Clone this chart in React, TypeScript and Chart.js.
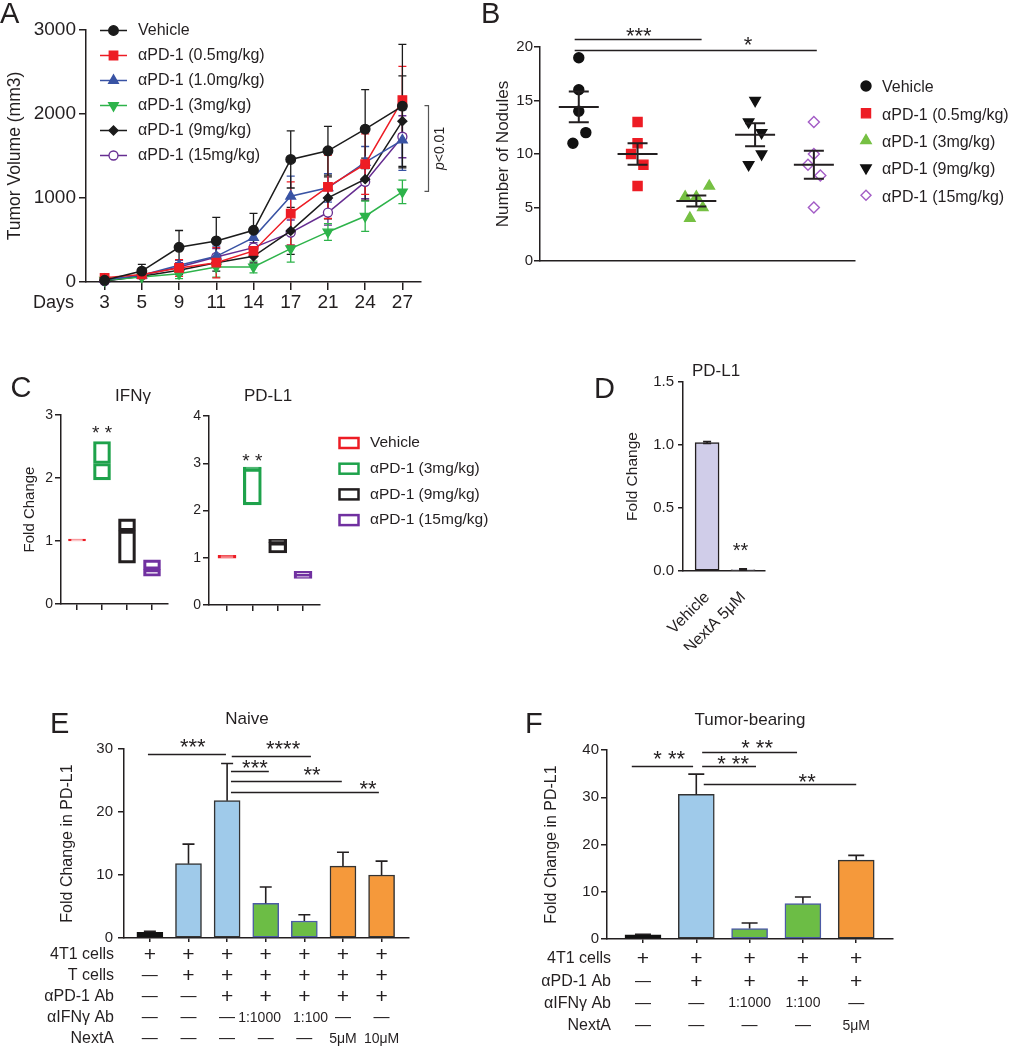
import React, { useEffect, useRef } from "react";
import { Chart, registerables } from "chart.js";

Chart.register(...registerables);

const FONT = "'Liberation Sans', Arial, Helvetica, sans-serif";
const INK = "#231f20";

// ================= Panel A : tumor volume =================
const daysA = ["3", "5", "9", "11", "14", "17", "21", "24", "27"];
const namesA = ["Vehicle", "αPD-1 (0.5mg/kg)", "αPD-1 (1.0mg/kg)", "αPD-1 (3mg/kg)", "αPD-1 (9mg/kg)", "αPD-1 (15mg/kg)"];
const vehicleA = [20, 130, 413, 489, 616, 1459, 1562, 1820, 2094];
const vehicleErrA = [10, 80, 200, 280, 200, 340, 290, 470, 735];
const dose05A = [50, 90, 167, 230, 370, 815, 1133, 1403, 2166];
const dose05ErrA = [10, 20, 100, 180, 60, 377, 377, 360, 400];
const dose10A = [28, 80, 199, 306, 529, 1021, 1121, 1423, 1689];
const dose10ErrA = [10, 20, 60, 120, 80, 240, 170, 190, 360];
const dose3A = [20, 60, 99, 179, 179, 397, 596, 783, 1073];
const dose3ErrA = [5, 15, 60, 120, 70, 160, 100, 180, 140];
const dose9A = [12, 68, 139, 230, 306, 608, 1001, 1224, 1915];
const dose9ErrA = [5, 20, 50, 100, 80, 280, 250, 250, 540];
const dose15A = [12, 80, 179, 298, 409, 588, 827, 1192, 1729];
const dose15ErrA = [5, 20, 50, 100, 60, 150, 150, 200, 250];
const yTicksA = [0, 1000, 2000, 3000];

// ================= Panel B : nodules =================
const groupsB = ["Vehicle", "αPD-1 (0.5mg/kg)", "αPD-1 (3mg/kg)", "αPD-1 (9mg/kg)", "αPD-1 (15mg/kg)"];
const vehicleB = [19, 16, 14, 12, 11];
const dose05B = [13, 11, 10, 9, 7];
const dose3B = [7, 6, 6, 5, 4];
const dose9B = [15, 13, 12, 10, 9];
const dose15B = [13, 10, 9, 8, 5];
const jitterVehicleB = [0, 0, 0, 0.12, -0.1];
const jitter05B = [0, 0, -0.11, 0.1, 0];
const jitter3B = [0.22, -0.19, 0, 0.11, -0.11];
const jitter9B = [0, -0.11, 0.11, 0.11, -0.11];
const jitter15B = [0, 0, -0.1, 0.11, 0];
const yTicksB = [0, 5, 10, 15, 20];

// ================= Panel C : fold change boxes =================
const groupsC = ["Vehicle", "αPD-1 (3mg/kg)", "αPD-1 (9mg/kg)", "αPD-1 (15mg/kg)"];
const ifngLow = [1.0, 1.97, 0.65, 0.44];
const ifngMid = [1.02, 2.23, 1.16, 0.55];
const ifngHigh = [1.03, 2.58, 1.35, 0.7];
const pdl1Low = [0.99, 2.12, 1.1, 0.56];
const pdl1Mid = [1.02, 2.88, 1.32, 0.63];
const pdl1High = [1.05, 2.92, 1.39, 0.71];
const yTicksC1 = [0, 1, 2, 3];
const yTicksC2 = [0, 1, 2, 3, 4];

// ================= Panel D =================
const labelsD = ["Vehicle", "NextA 5μM"];
const valuesD = [1.02, 0.012];
const errD = [0.008, 0.006];
const yTicksD = [0, 0.5, 1.0, 1.5];

// ================= Panel E : Naive =================
const valuesE = [0.9, 11.8, 21.8, 5.5, 2.7, 11.4, 10.0];
const errE = [0.15, 3.1, 5.9, 2.6, 1.0, 2.2, 2.2];
const rowLabelsE = ["4T1 cells", "T cells", "αPD-1 Ab", "αIFNγ Ab", "NextA"];
const cellsE = ["+", "+", "+", "+", "+", "+", "+"];
const tCellsE = ["—", "+", "+", "+", "+", "+", "+"];
const pd1AbE = ["—", "—", "+", "+", "+", "+", "+"];
const ifngAbE = ["—", "—", "—", "1:1000", "1:100", "—", "—"];
const nextAE = ["—", "—", "—", "—", "—", "5μM", "10μM"];
const ifngShiftE = [0, 0, 0, -0.16, 0.16, 0, 0];
const yTicksE = [0, 10, 20, 30];

// ================= Panel F : Tumor-bearing =================
const valuesF = [0.9, 30.6, 2.2, 7.5, 16.7];
const errF = [0.1, 4.3, 1.2, 1.4, 1.0];
const rowLabelsF = ["4T1 cells", "αPD-1 Ab", "αIFNγ Ab", "NextA"];
const cellsF = ["+", "+", "+", "+", "+"];
const pd1AbF = ["—", "+", "+", "+", "+"];
const ifngAbF = ["—", "—", "1:1000", "1:100", "—"];
const nextAF = ["—", "—", "—", "—", "5μM"];
const yTicksF = [0, 10, 20, 30, 40];

// significance annotations (x in category units, y in data units)
const sigB = [
  { from: 0.93, to: 3.09, at: 20.75, label: "***", lx: 2.02, ly: 21.55 },
  { from: 0.93, to: 5.05, at: 19.72, label: "*", lx: 3.88, ly: 20.75 },
];
const sigE = [
  { from: -0.05, to: 1.97, at: 29.2, label: "***", lx: 1.11, ly: 31.3 },
  { from: 2.12, to: 4.17, at: 28.9, label: "****", lx: 3.45, ly: 30.95 },
  { from: 2.1, to: 3.08, at: 26.5, label: "***", lx: 2.72, ly: 27.9 },
  { from: 2.1, to: 4.97, at: 24.9, label: "**", lx: 4.2, ly: 26.8 },
  { from: 2.1, to: 5.93, at: 23.2, label: "**", lx: 5.65, ly: 24.6 },
];
const sigF = [
  { from: -0.21, to: 0.94, at: 36.6, label: "* **", lx: 0.49, ly: 39.4 },
  { from: 1.11, to: 2.89, at: 39.6, label: "* **", lx: 2.14, ly: 41.7 },
  { from: 1.11, to: 2.12, at: 36.6, label: "* **", lx: 1.69, ly: 38.3 },
  { from: 1.14, to: 4.0, at: 32.8, label: "**", lx: 3.08, ly: 34.5 },
];

type Box = { left: number; top: number; width: number; height: number };

const BOX_A: Box = { left: 0, top: 0, width: 480, height: 325 };
const BOX_B: Box = { left: 480, top: 0, width: 536, height: 285 };
const BOX_C1: Box = { left: 0, top: 370, width: 175, height: 255 };
const BOX_C2: Box = { left: 175, top: 370, width: 385, height: 255 };
const BOX_D: Box = { left: 590, top: 350, width: 200, height: 300 };
const BOX_E: Box = { left: 0, top: 690, width: 470, height: 360 };
const BOX_F: Box = { left: 500, top: 690, width: 516, height: 360 };

// ---------- helpers ----------
function txt(ctx: any, s: string, x: number, y: number, size: number, align: string = "left", baseline: string = "alphabetic", style = "") {
  ctx.font = `${style}${size}px ${FONT}`;
  ctx.fillStyle = INK;
  ctx.textAlign = align;
  ctx.textBaseline = baseline;
  ctx.fillText(s, x, y);
}

function stars(ctx: any, s: string, cx: number, cy: number, size: number) {
  txt(ctx, s, cx, cy + 0.58 * size, size, "center", "alphabetic");
}

function shape(ctx: any, style: string, x: number, y: number, r: number, rot: number, fill: string, stroke: string, lw: number) {
  ctx.beginPath();
  if (style === "circle") {
    ctx.arc(x, y, r, 0, Math.PI * 2);
  } else if (style === "rect") {
    const s = r * Math.SQRT1_2;
    ctx.rect(x - s, y - s, 2 * s, 2 * s);
  } else if (style === "rectRot") {
    ctx.moveTo(x - r, y);
    ctx.lineTo(x, y - r);
    ctx.lineTo(x + r, y);
    ctx.lineTo(x, y + r);
    ctx.closePath();
  } else if (style === "triangle") {
    let a = (rot * Math.PI) / 180;
    for (let k = 0; k < 3; k++) {
      const px = x + Math.sin(a) * r;
      const py = y - Math.cos(a) * r;
      if (k === 0) ctx.moveTo(px, py);
      else ctx.lineTo(px, py);
      a += (2 * Math.PI) / 3;
    }
    ctx.closePath();
  }
  ctx.fillStyle = fill;
  ctx.fill();
  ctx.strokeStyle = stroke;
  ctx.lineWidth = lw;
  ctx.stroke();
}

function common(top: number, right: number) {
  return {
    responsive: false,
    maintainAspectRatio: false,
    animation: false,
    devicePixelRatio: 1,
    events: [],
    layout: { padding: { top, right, bottom: 0, left: 0 } },
    plugins: { legend: { display: false }, tooltip: { enabled: false }, title: { display: false } },
  };
}

function yAxis(o: { min: number; max: number; ticks: number[]; width: number; font: number; tickLen: number; pad: number; fmt?: (v: number) => string; title?: string; titleSize?: number; titleX?: number }) {
  return {
    type: "linear",
    min: o.min,
    max: o.max,
    bounds: "data",
    afterBuildTicks: (ax: any) => {
      ax.ticks = o.ticks.map((v) => ({ value: v }));
    },
    afterFit: (ax: any) => {
      ax.width = o.width;
    },
    ticks: {
      font: { family: FONT, size: o.font },
      color: INK,
      padding: o.pad,
      callback: (v: number) => (o.fmt ? o.fmt(v) : String(v)),
    },
    grid: { display: true, drawOnChartArea: false, drawTicks: true, tickLength: o.tickLen, color: INK, lineWidth: 1.5 },
    border: { display: true, color: INK, width: 1.5 },
    title: o.title
      ? {
          display: true,
          text: o.title,
          font: { family: FONT, size: o.titleSize, lineHeight: 1.2 },
          color: INK,
          padding: { top: (o.titleX as number) - 0.6 * (o.titleSize as number), bottom: 0 },
        }
      : { display: false },
  };
}

function xLinear(o: { min: number; max: number; ticks: number[]; height: number; tickLen: number; pad: number; font?: number; lineHeight?: number; rot?: number; label?: (v: number) => any }) {
  return {
    type: "linear",
    min: o.min,
    max: o.max,
    bounds: "data",
    offset: false,
    afterBuildTicks: (ax: any) => {
      ax.ticks = o.ticks.map((v) => ({ value: v }));
    },
    afterFit: (ax: any) => {
      ax.height = o.height;
    },
    ticks: {
      autoSkip: false,
      minRotation: o.rot || 0,
      maxRotation: o.rot || 0,
      padding: o.pad,
      font: { family: FONT, size: o.font || 14, lineHeight: o.lineHeight || 1.2 },
      color: INK,
      callback: (v: number) => (o.label ? o.label(v) : ""),
    },
    grid: { display: o.tickLen > 0, drawOnChartArea: false, drawTicks: o.tickLen > 0, tickLength: o.tickLen, color: INK, lineWidth: 1.5, offset: false },
    border: { display: true, color: INK, width: 1.5 },
  };
}

function inAbs(ctx: any, box: Box, fn: () => void) {
  ctx.save();
  ctx.translate(-box.left, -box.top);
  fn();
  ctx.restore();
}

function sigDraw(chart: any, list: any[], size: number) {
  const ctx = chart.ctx;
  const xs = chart.scales.x;
  const ys = chart.scales.y;
  ctx.save();
  ctx.strokeStyle = INK;
  ctx.lineWidth = 1.5;
  list.forEach((s) => {
    const y = Math.round(ys.getPixelForValue(s.at)) + 0.5;
    ctx.beginPath();
    ctx.moveTo(xs.getPixelForValue(s.from), y);
    ctx.lineTo(xs.getPixelForValue(s.to), y);
    ctx.stroke();
    stars(ctx, s.label, xs.getPixelForValue(s.lx), ys.getPixelForValue(s.ly), size);
  });
  ctx.restore();
}

function upperErr(chart: any, vals: number[], errs: number[], cap: number, both = false) {
  const ctx = chart.ctx;
  const xs = chart.scales.x;
  const ys = chart.scales.y;
  ctx.save();
  ctx.strokeStyle = INK;
  ctx.lineWidth = 1.6;
  vals.forEach((v, i) => {
    const px = xs.getPixelForValue(i);
    const top = ys.getPixelForValue(v + errs[i]);
    const base = ys.getPixelForValue(both ? Math.max(0, v - errs[i]) : v);
    ctx.beginPath();
    ctx.moveTo(px, base);
    ctx.lineTo(px, top);
    ctx.moveTo(px - cap, top);
    ctx.lineTo(px + cap, top);
    if (both) {
      ctx.moveTo(px - cap, base);
      ctx.lineTo(px + cap, base);
    }
    ctx.stroke();
  });
  ctx.restore();
}

// condition table under bars, columns placed by the x scale
function drawTable(chart: any, labels: string[], rows: string[][], shifts: (number[] | null)[], y0: number, lh: number, labelRight: number) {
  const ctx = chart.ctx;
  const xs = chart.scales.x;
  rows.forEach((row, r) => {
    const y = y0 + lh * r;
    txt(ctx, labels[r], labelRight, y, 16, "right", "middle");
    row.forEach((s, i) => {
      const sh = shifts[r] ? (shifts[r] as number[])[i] : 0;
      const x = xs.getPixelForValue(i + sh);
      if (s === "+") txt(ctx, s, x, y + 0.5, 21, "center", "middle");
      else if (s === "—") txt(ctx, s, x, y, 16, "center", "middle");
      else txt(ctx, s, x, y, 14, "center", "middle");
    });
  });
}

// ---------- Panel A ----------
const specsA = [
  { data: vehicleA, err: vehicleErrA, color: "#1b1b1b", style: "circle", r: 4.8, fill: "#1b1b1b", rot: 0 },
  { data: dose05A, err: dose05ErrA, color: "#ed1c24", style: "rect", r: 6, fill: "#ed1c24", rot: 0 },
  { data: dose10A, err: dose10ErrA, color: "#3953a4", style: "triangle", r: 5.6, fill: "#3953a4", rot: 0 },
  { data: dose3A, err: dose3ErrA, color: "#2db34a", style: "triangle", r: 5.6, fill: "#2db34a", rot: 180 },
  { data: dose9A, err: dose9ErrA, color: "#1b1b1b", style: "rectRot", r: 4.5, fill: "#1b1b1b", rot: 0 },
  { data: dose15A, err: dose15ErrA, color: "#662d91", style: "circle", r: 4.5, fill: "#ffffff", rot: 0 },
];

function buildA() {
  const box = BOX_A;
  return {
    type: "line",
    data: {
      labels: daysA,
      datasets: specsA.map((s, i) => ({
        label: namesA[i],
        data: s.data,
        borderColor: s.color,
        backgroundColor: s.fill,
        borderWidth: 1.5,
        pointStyle: s.style,
        pointRadius: s.r,
        pointHoverRadius: s.r,
        pointRotation: s.rot,
        pointBackgroundColor: s.fill,
        pointBorderColor: s.color,
        pointBorderWidth: 1.3,
        tension: 0,
        fill: false,
        clip: false,
      })),
    },
    options: {
      ...common(30, 59),
      scales: {
        x: {
          type: "category",
          offset: true,
          afterFit: (ax: any) => {
            ax.height = 43;
          },
          ticks: { font: { family: FONT, size: 19 }, color: INK, padding: 1, autoSkip: false, maxRotation: 0, minRotation: 0 },
          grid: { display: true, drawOnChartArea: false, drawTicks: true, tickLength: 8, color: INK, lineWidth: 1.5, offset: false },
          border: { display: true, color: INK, width: 1.5 },
        },
        y: yAxis({ min: 0, max: 3000, ticks: yTicksA, width: 86, font: 19, tickLen: 7, pad: 3, title: "Tumor Volume (mm3)", titleSize: 17.5, titleX: 15 }),
      },
    },
    plugins: [
      {
        id: "a-err",
        beforeDatasetsDraw(chart: any) {
          const ctx = chart.ctx;
          const xs = chart.scales.x;
          const ys = chart.scales.y;
          ctx.save();
          [...specsA].reverse().forEach((s) => {
            ctx.strokeStyle = s.color;
            ctx.lineWidth = 1.3;
            s.data.forEach((v: number, i: number) => {
              const px = xs.getPixelForValue(i);
              const hi = ys.getPixelForValue(v + s.err[i]);
              const lo = ys.getPixelForValue(Math.max(0, v - s.err[i]));
              ctx.beginPath();
              ctx.moveTo(px, hi);
              ctx.lineTo(px, lo);
              ctx.moveTo(px - 4, hi);
              ctx.lineTo(px + 4, hi);
              ctx.moveTo(px - 4, lo);
              ctx.lineTo(px + 4, lo);
              ctx.stroke();
            });
          });
          ctx.restore();
        },
        afterDraw(chart: any) {
          const ctx = chart.ctx;
          const ys = chart.scales.y;
          // p<0.01 bracket
          ctx.save();
          const bx = chart.chartArea.right + 7.5;
          const yt = ys.getPixelForValue(2100);
          const yb = ys.getPixelForValue(1080);
          ctx.strokeStyle = "#555";
          ctx.lineWidth = 1.2;
          ctx.beginPath();
          ctx.moveTo(bx - 4, yt);
          ctx.lineTo(bx, yt);
          ctx.lineTo(bx, yb);
          ctx.lineTo(bx - 4, yb);
          ctx.stroke();
          ctx.translate(bx + 12, (yt + yb) / 2);
          ctx.rotate(-Math.PI / 2);
          ctx.font = `italic 14px ${FONT}`;
          const w1 = ctx.measureText("p").width;
          ctx.font = `14px ${FONT}`;
          const w2 = ctx.measureText("<0.01").width;
          const start = -(w1 + w2) / 2;
          txt(ctx, "p", start, 0, 14, "left", "middle", "italic ");
          txt(ctx, "<0.01", start + w1, 0, 14, "left", "middle");
          ctx.restore();
          inAbs(ctx, box, () => {
            txt(ctx, "A", 0, 23, 29);
            txt(ctx, "Days", 33, 303, 18, "left", "middle");
            specsA.forEach((s, i) => {
              const y = 30.5 + 25 * i;
              ctx.strokeStyle = s.color;
              ctx.lineWidth = 1.5;
              ctx.beginPath();
              ctx.moveTo(100, y);
              ctx.lineTo(127, y);
              ctx.stroke();
              shape(ctx, s.style, 113.5, y, s.r, s.rot, s.fill, s.color, 1.3);
              txt(ctx, namesA[i], 138, y, 16, "left", "middle");
            });
          });
        },
      },
    ],
  };
}

// ---------- Panel B ----------
const specsB = [
  { vals: vehicleB, jit: jitterVehicleB, style: "circle", r: 5, rot: 0, fill: "#111111", stroke: "#111111" },
  { vals: dose05B, jit: jitter05B, style: "rect", r: 6.4, rot: 0, fill: "#ed1c24", stroke: "#ed1c24" },
  { vals: dose3B, jit: jitter3B, style: "triangle", r: 6, rot: 0, fill: "#76c043", stroke: "#76c043" },
  { vals: dose9B, jit: jitter9B, style: "triangle", r: 6, rot: 180, fill: "#111111", stroke: "#111111" },
  { vals: dose15B, jit: jitter15B, style: "rectRot", r: 5.5, rot: 0, fill: "#ffffff", stroke: "#a35cc6" },
];

function buildB() {
  const box = BOX_B;
  return {
    type: "scatter",
    data: {
      datasets: specsB.map((s, g) => ({
        label: groupsB[g],
        data: s.vals.map((v, i) => ({ x: g + 1 + s.jit[i], y: v })),
        pointStyle: s.style,
        pointRadius: s.r,
        pointHoverRadius: s.r,
        pointRotation: s.rot,
        pointBackgroundColor: s.fill,
        pointBorderColor: s.stroke,
        pointBorderWidth: 1.4,
        showLine: false,
        clip: false,
      })),
    },
    options: {
      ...common(47, 161),
      scales: {
        x: xLinear({ min: 0.34, max: 5.7, ticks: [], height: 24, tickLen: 0, pad: 0 }),
        y: yAxis({ min: 0, max: 20, ticks: yTicksB, width: 60, font: 15, tickLen: 6, pad: 1, title: "Number of Nodules", titleSize: 17, titleX: 23 }),
      },
    },
    plugins: [
      {
        id: "b-extra",
        afterDatasetsDraw(chart: any) {
          const ctx = chart.ctx;
          const xs = chart.scales.x;
          const ys = chart.scales.y;
          ctx.save();
          ctx.strokeStyle = INK;
          ctx.lineWidth = 2;
          specsB.forEach((s, g) => {
            const n = s.vals.length;
            const mean = s.vals.reduce((a, b) => a + b, 0) / n;
            const sd = Math.sqrt(s.vals.reduce((a, b) => a + (b - mean) * (b - mean), 0) / (n - 1));
            const sem = sd / Math.sqrt(n);
            const px = xs.getPixelForValue(g + 1);
            const pm = ys.getPixelForValue(mean);
            const ph = ys.getPixelForValue(mean + sem);
            const pl = ys.getPixelForValue(mean - sem);
            ctx.beginPath();
            ctx.moveTo(px - 20, pm);
            ctx.lineTo(px + 20, pm);
            ctx.moveTo(px, ph);
            ctx.lineTo(px, pl);
            ctx.moveTo(px - 10, ph);
            ctx.lineTo(px + 10, ph);
            ctx.moveTo(px - 10, pl);
            ctx.lineTo(px + 10, pl);
            ctx.stroke();
          });
          ctx.restore();
        },
        afterDraw(chart: any) {
          const ctx = chart.ctx;
          sigDraw(chart, sigB, 22);
          inAbs(ctx, box, () => {
            txt(ctx, "B", 481, 23, 29);
            specsB.forEach((s, i) => {
              const y = 88 + 27.3 * i;
              shape(ctx, s.style, 866, y - 2, s.style === "rect" ? 6.4 : s.style === "rectRot" ? 5 : s.r, s.rot, s.fill, s.stroke, 1.4);
              txt(ctx, groupsB[i], 882, y, 16, "left", "middle");
            });
          });
        },
      },
    ],
  };
}

// ---------- Panel C ----------
const colorsC = ["#ed1c24", "#1ea24b", "#231f20", "#7030a0"];

function boxDatasets(low: number[], mid: number[], high: number[], thick: number) {
  const mk = (a: number[], b: number[]) => ({
    data: a.map((v, i) => ({ x: i, y: [v, b[i]] })),
    backgroundColor: "rgba(255,255,255,0)",
    borderColor: colorsC,
    borderWidth: 2.5,
    borderSkipped: false,
    barThickness: thick,
    grouped: false,
  });
  return [mk(low, mid), mk(mid, high)];
}

function buildC1() {
  const box = BOX_C1;
  return {
    type: "bar",
    data: { datasets: boxDatasets(ifngLow, ifngMid, ifngHigh, 17) },
    options: {
      ...common(45, 7),
      scales: {
        x: xLinear({ min: -0.64, max: 3.64, ticks: [0, 1, 2, 3], height: 21, tickLen: 6, pad: 0 }),
        y: yAxis({ min: 0, max: 3, ticks: yTicksC1, width: 61, font: 14, tickLen: 6, pad: 2, title: "Fold Change", titleSize: 15, titleX: 30 }),
      },
    },
    plugins: [
      {
        id: "c1-extra",
        afterDraw(chart: any) {
          const ctx = chart.ctx;
          stars(ctx, "* *", chart.scales.x.getPixelForValue(1), chart.scales.y.getPixelForValue(2.79), 19);
          inAbs(ctx, box, () => {
            txt(ctx, "C", 10.5, 397, 29);
            txt(ctx, "IFNγ", 133, 401, 17, "center");
          });
        },
      },
    ],
  };
}

function buildC2() {
  const box = BOX_C2;
  return {
    type: "bar",
    data: { datasets: boxDatasets(pdl1Low, pdl1Mid, pdl1High, 18) },
    options: {
      ...common(46, 240),
      scales: {
        x: xLinear({ min: -0.71, max: 3.67, ticks: [0, 1, 2, 3], height: 20, tickLen: 6, pad: 0 }),
        y: yAxis({ min: 0, max: 4, ticks: yTicksC2, width: 34, font: 14, tickLen: 6, pad: 2 }),
      },
    },
    plugins: [
      {
        id: "c2-extra",
        afterDraw(chart: any) {
          const ctx = chart.ctx;
          stars(ctx, "* *", chart.scales.x.getPixelForValue(1), chart.scales.y.getPixelForValue(3.15), 19);
          inAbs(ctx, box, () => {
            txt(ctx, "PD-L1", 268, 401, 17, "center");
            groupsC.forEach((g, i) => {
              const y = 443 + 25.7 * i;
              ctx.strokeStyle = colorsC[i];
              ctx.lineWidth = 2.5;
              ctx.strokeRect(339.5, y - 5, 19, 10);
              txt(ctx, g, 370, y, 15.5, "left", "middle");
            });
          });
        },
      },
    ],
  };
}

// ---------- Panel D ----------
function buildD() {
  const box = BOX_D;
  return {
    type: "bar",
    data: {
      datasets: [
        {
          data: valuesD.map((v, i) => ({ x: i, y: v })),
          backgroundColor: ["#d0cde9", "#c9c7d9"],
          borderColor: [INK, "#777777"],
          borderWidth: 1.5,
          borderSkipped: false,
          barThickness: 24,
        },
      ],
    },
    options: {
      ...common(32, 25),
      scales: {
        x: xLinear({ min: -0.67, max: 1.61, ticks: [0, 1], height: 79, tickLen: 0, pad: 17, font: 16, rot: 45, label: (v: number) => labelsD[v] ?? "" }),
        y: yAxis({ min: 0, max: 1.5, ticks: yTicksD, width: 93, font: 15, tickLen: 5, pad: 4, fmt: (v) => v.toFixed(1), title: "Fold Change", titleSize: 15.5, titleX: 43 }),
      },
    },
    plugins: [
      {
        id: "d-extra",
        afterDraw(chart: any) {
          const ctx = chart.ctx;
          upperErr(chart, valuesD, errD, 4, true);
          stars(ctx, "**", chart.scales.x.getPixelForValue(0.93), chart.scales.y.getPixelForValue(0.206), 20);
          inAbs(ctx, box, () => {
            txt(ctx, "D", 594, 398, 29);
            txt(ctx, "PD-L1", 716, 376, 17, "center");
          });
        },
      },
    ],
  };
}

// ---------- Panel E ----------
const fillE = ["#111111", "#9fcaea", "#9fcaea", "#6cbd45", "#6cbd45", "#f5993b", "#f5993b"];
const lineE = ["#111111", "#333333", "#333333", "#4c5aa6", "#4c5aa6", "#333333", "#333333"];

function buildE() {
  const box = BOX_E;
  return {
    type: "bar",
    data: {
      datasets: [
        {
          data: valuesE.map((v, i) => ({ x: i, y: v })),
          backgroundColor: fillE,
          borderColor: lineE,
          borderWidth: 1.5,
          borderSkipped: false,
          barThickness: 26,
        },
      ],
    },
    options: {
      ...common(59, 61),
      scales: {
        x: xLinear({ min: -0.67, max: 6.71, ticks: [0, 1, 2, 3, 4, 5, 6], height: 112, tickLen: 4, pad: 0 }),
        y: yAxis({ min: 0, max: 30, ticks: yTicksE, width: 124, font: 15, tickLen: 6, pad: 5, title: "Fold Change in PD-L1", titleSize: 16, titleX: 68 }),
      },
    },
    plugins: [
      {
        id: "e-extra",
        afterDatasetsDraw(chart: any) {
          upperErr(chart, valuesE, errE, 6);
        },
        afterDraw(chart: any) {
          const ctx = chart.ctx;
          sigDraw(chart, sigE, 22);
          const y0 = chart.chartArea.bottom + 17;
          drawTable(chart, rowLabelsE, [cellsE, tCellsE, pd1AbE, ifngAbE, nextAE], [null, null, null, ifngShiftE, null], y0, 21, 114);
          inAbs(ctx, box, () => {
            txt(ctx, "E", 50, 733, 29);
            txt(ctx, "Naive", 247, 724, 17, "center");
          });
        },
      },
    ],
  };
}

// ---------- Panel F ----------
const fillF = ["#111111", "#9fcaea", "#6cbd45", "#6cbd45", "#f5993b"];
const lineF = ["#111111", "#333333", "#4c5aa6", "#4c5aa6", "#333333"];

function buildF() {
  const box = BOX_F;
  return {
    type: "bar",
    data: {
      datasets: [
        {
          data: valuesF.map((v, i) => ({ x: i, y: v })),
          backgroundColor: fillF,
          borderColor: lineF,
          borderWidth: 1.5,
          borderSkipped: false,
          barThickness: 36,
        },
      ],
    },
    options: {
      ...common(60, 123),
      scales: {
        x: xLinear({ min: -0.675, max: 4.69, ticks: [0, 1, 2, 3, 4], height: 111, tickLen: 4, pad: 0 }),
        y: yAxis({ min: 0, max: 40, ticks: yTicksF, width: 107, font: 15, tickLen: 6, pad: 2, title: "Fold Change in PD-L1", titleSize: 16, titleX: 52 }),
      },
    },
    plugins: [
      {
        id: "f-extra",
        afterDatasetsDraw(chart: any) {
          upperErr(chart, valuesF, errF, 8);
        },
        afterDraw(chart: any) {
          const ctx = chart.ctx;
          sigDraw(chart, sigF, 22);
          const y0 = chart.chartArea.bottom + 20;
          drawTable(chart, rowLabelsF, [cellsF, pd1AbF, ifngAbF, nextAF], [null, null, null, null], y0, 22.3, 111);
          inAbs(ctx, box, () => {
            txt(ctx, "F", 525, 733, 29);
            txt(ctx, "Tumor-bearing", 750, 725, 17, "center");
          });
        },
      },
    ],
  };
}

function ChartCanvas({ box, build }: { box: Box; build: () => any }) {
  const ref = useRef<HTMLCanvasElement | null>(null);
  useEffect(() => {
    const chart = new Chart(ref.current as HTMLCanvasElement, build() as any);
    return () => chart.destroy();
  }, []);
  return (
    <canvas
      ref={ref}
      width={box.width}
      height={box.height}
      style={{ position: "absolute", left: box.left, top: box.top, width: box.width, height: box.height }}
    />
  );
}

export default function App() {
  return (
    <div style={{ position: "absolute", left: 0, top: 0, width: 1016, height: 1050, background: "#ffffff", overflow: "hidden" }}>
      <ChartCanvas box={BOX_A} build={buildA} />
      <ChartCanvas box={BOX_B} build={buildB} />
      <ChartCanvas box={BOX_C1} build={buildC1} />
      <ChartCanvas box={BOX_C2} build={buildC2} />
      <ChartCanvas box={BOX_D} build={buildD} />
      <ChartCanvas box={BOX_E} build={buildE} />
      <ChartCanvas box={BOX_F} build={buildF} />
    </div>
  );
}
